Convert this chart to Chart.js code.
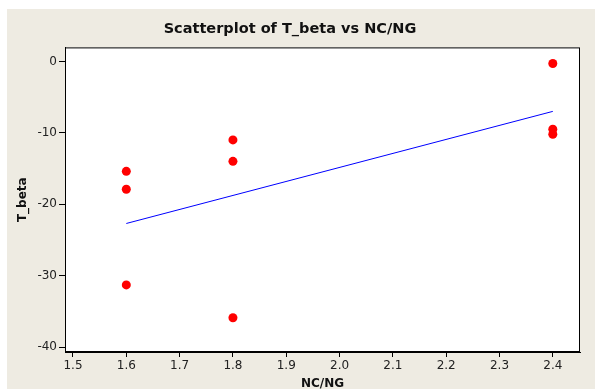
<!DOCTYPE html>
<html>
<head>
<meta charset="utf-8">
<script src="https://cdn.jsdelivr.net/npm/chart.js@4/dist/chart.umd.min.js"></script>
<style>
  html, body { margin: 0; padding: 0; background: #fff; }
  #wrap { width: 595px; height: 389px; }
</style>
</head>
<body>
<div id="wrap"><canvas id="scatter" width="595" height="389"></canvas></div>
<script>
// values
const ncng  = [1.6, 1.6, 1.6, 1.8, 1.8, 1.8, 2.4, 2.4, 2.4];
const tbeta = [-15.4, -17.9, -31.3, -11.0, -14.0, -35.9, -0.3, -9.5, -10.2];
const fitX  = [1.6, 2.4];
const fitY  = [-22.7, -7.0];
const xTicks = [1.5, 1.6, 1.7, 1.8, 1.9, 2.0, 2.1, 2.2, 2.3, 2.4];
const yTicks = [-40, -30, -20, -10, 0];

const font = "'DejaVu Sans', Verdana, sans-serif";

// beige panel behind everything + black frame round the plot
const panel = {
    id: 'panel',
    beforeDraw(chart) {
        const c = chart.ctx;
        c.save();
        c.fillStyle = '#eeebe2';
        c.fillRect(7, 9, chart.width - 7, chart.height - 9);
        const a = chart.chartArea;
        c.fillStyle = '#ffffff';
        c.fillRect(a.left, a.top, a.right - a.left, a.bottom - a.top);
        c.restore();
    },
    afterDatasetsDraw(chart) {
        const c = chart.ctx, a = chart.chartArea;
        c.save();
        c.strokeStyle = '#000';
        c.lineWidth = 1;
        c.strokeRect(a.left + 0.5, a.top + 0.5, a.right - a.left - 1, a.bottom - a.top - 1);
        c.restore();
    }
};

new Chart(document.getElementById('scatter'), {
    type: 'scatter',
    data: {
        datasets: [{
            label: 'T_beta',
            data: ncng.map((x, i) => ({x: x, y: tbeta[i]})),
            backgroundColor: '#ff0000',
            borderWidth: 0,
            pointRadius: 4.5,
            pointHoverRadius: 4.5,
            order: 1
        }, {
            type: 'line',
            label: 'fit',
            data: fitX.map((x, i) => ({x: x, y: fitY[i]})),
            borderColor: '#0000ff',
            borderWidth: 1,
            pointRadius: 0,
            fill: false,
            order: 2
        }]
    },
    options: {
        responsive: false,
        animation: false,
        layout: { padding: { left: 0, top: 9, right: 15, bottom: 0 } },
        plugins: {
            legend: { display: false },
            tooltip: { enabled: false },
            title: {
                display: true,
                text: 'Scatterplot of T_beta vs NC/NG',
                color: '#111',
                font: { family: font, size: 14.5, weight: 'bold' },
                padding: { top: 12, bottom: 9 }
            }
        },
        scales: {
            x: {
                type: 'linear',
                min: 1.485,
                max: 2.451,
                afterFit(s) { s.height = 37; },
                afterBuildTicks(s) { s.ticks = xTicks.map(v => ({value: v})); },
                ticks: {
                    color: '#222',
                    font: { family: font, size: 12 },
                    padding: 2,
                    maxRotation: 0,
                    callback: v => v.toFixed(1)
                },
                grid: { drawOnChartArea: false, drawTicks: true, tickLength: 5, color: '#000' },
                border: { display: true, color: '#000' },
                title: {
                    display: true,
                    text: 'NC/NG',
                    color: '#111',
                    font: { family: font, size: 12, weight: 'bold' },
                    padding: { top: 0, bottom: -2 }
                }
            },
            y: {
                type: 'linear',
                min: -40.7,
                max: 1.96,
                afterFit(s) { s.width = 65; },
                afterBuildTicks(s) { s.ticks = yTicks.map(v => ({value: v})); },
                ticks: {
                    color: '#222',
                    font: { family: font, size: 12 },
                    padding: 2
                },
                grid: { drawOnChartArea: false, drawTicks: true, tickLength: 6, color: '#000' },
                border: { display: true, color: '#000' },
                title: {
                    display: true,
                    text: 'T_beta',
                    color: '#111',
                    font: { family: font, size: 12, weight: 'bold' },
                    padding: { top: 16, bottom: 0 }
                }
            }
        }
    },
    plugins: [panel]
});
</script>
</body>
</html>
